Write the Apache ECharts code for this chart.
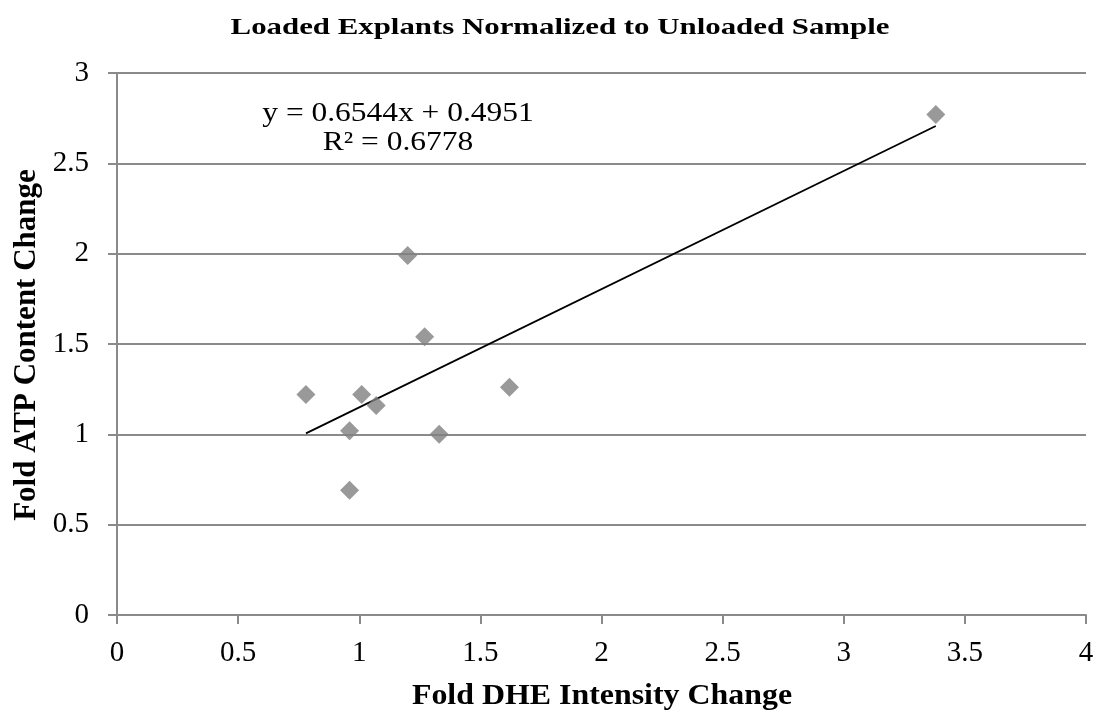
<!DOCTYPE html>
<html>
<head>
<meta charset="utf-8">
<script src="https://cdn.jsdelivr.net/npm/echarts@6/dist/echarts.min.js"></script>
<style>
html,body{margin:0;padding:0;background:#fff;}
#chart{width:1099px;height:716px;}
</style>
</head>
<body>
<div id="chart"></div>
<script>
// Data
const dheFold = [0.78, 0.96, 0.96, 1.01, 1.07, 1.20, 1.27, 1.33, 1.62, 3.38];
const atpFold = [1.22, 1.02, 0.69, 1.22, 1.16, 1.99, 1.54, 1.00, 1.26, 2.77];
const trendSlope = 0.6544;
const trendIntercept = 0.4951;
const rSquared = 0.6778;
const xTicks = [0, 0.5, 1, 1.5, 2, 2.5, 3, 3.5, 4];
const yTicks = [0, 0.5, 1, 1.5, 2, 2.5, 3];
const titleText = 'Loaded Explants Normalized to Unloaded Sample';
const xName = 'Fold DHE Intensity Change';
const yName = 'Fold ATP Content Change';

const FONT = '"Liberation Serif", "Times New Roman", serif';
const points = dheFold.map((x, i) => [x, atpFold[i]]);
const xMin = Math.min(...dheFold), xMax = Math.max(...dheFold);
const trend = [[xMin, trendSlope * xMin + trendIntercept], [xMax, trendSlope * xMax + trendIntercept]];
const eqText = 'y = ' + trendSlope.toFixed(4) + 'x + ' + trendIntercept.toFixed(4);
const r2Text = 'R² = ' + rSquared.toFixed(4);

function txt(text, x, y, size, bold, sx, rot) {
  return {
    type: 'text', x: x, y: y, scaleX: sx || 1, rotation: rot || 0, z: 10,
    style: {
      text: text, x: 0, y: 0,
      align: 'center', verticalAlign: 'middle',
      textAlign: 'center', textVerticalAlign: 'middle',
      fontFamily: FONT, fontSize: size, fontWeight: bold ? 'bold' : 'normal', fill: '#000'
    }
  };
}

const AX = '#8a8a8a';
const chart = echarts.init(document.getElementById('chart'), null, {renderer: 'canvas'});
chart.setOption({
  backgroundColor: '#ffffff',
  animation: false,
  grid: {left: 117, right: 13, top: 73, bottom: 101},
  xAxis: {
    type: 'value', min: xTicks[0], max: xTicks[xTicks.length - 1], interval: 0.5,
    axisLine: {show: true, lineStyle: {color: AX, width: 2}},
    axisTick: {show: true, inside: false, length: 9, lineStyle: {color: AX, width: 2}},
    axisLabel: {fontFamily: FONT, fontSize: 29, color: '#000', margin: 24},
    splitLine: {show: false}
  },
  yAxis: {
    type: 'value', min: yTicks[0], max: yTicks[yTicks.length - 1], interval: 0.5,
    axisLine: {show: true, lineStyle: {color: AX, width: 2}},
    axisTick: {show: true, inside: false, length: 9, lineStyle: {color: AX, width: 2}},
    axisLabel: {fontFamily: FONT, fontSize: 29, color: '#000', margin: 28,
      formatter: v => String(v)},
    splitLine: {show: true, lineStyle: {color: AX, width: 2}}
  },
  series: [
    {
      type: 'line', data: trend, showSymbol: false, symbol: 'none',
      lineStyle: {color: '#000', width: 1.8}, z: 3, silent: true
    },
    {
      type: 'scatter', data: points, symbol: 'diamond', symbolSize: 19,
      itemStyle: {color: '#7f7f7f'}, z: 4
    }
  ],
  graphic: [
    txt(titleText, 560, 28, 24, true, 1.285),
    txt(xName, 602, 697, 29, true, 1.1),
    txt(yName, 27, 345, 31, true, 1, Math.PI / 2),
    txt(eqText, 398, 114, 27, false, 1.165),
    txt(r2Text, 398, 143, 27, false, 1.165)
  ]
});
</script>
</body>
</html>
